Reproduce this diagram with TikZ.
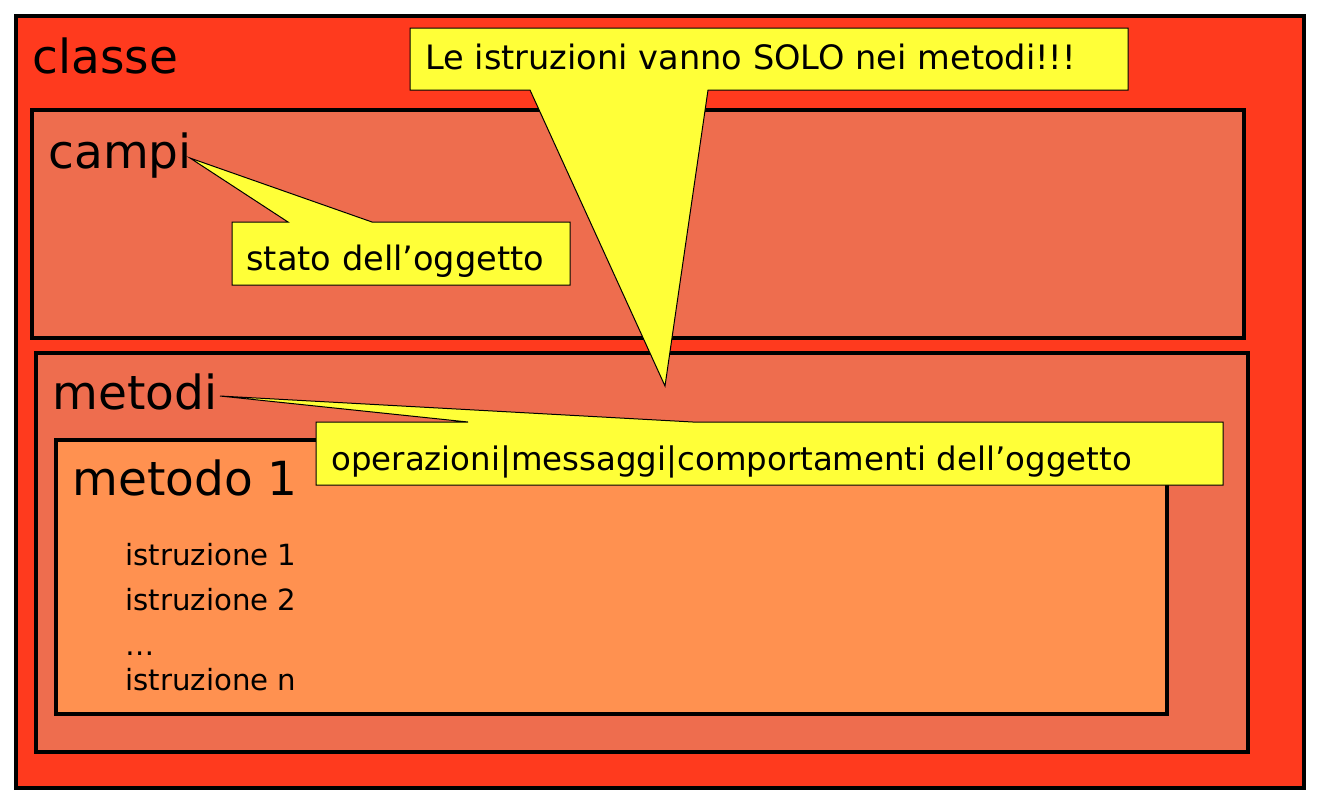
\documentclass[tikz,border=0pt]{standalone}
\usepackage{fontspec}
\setmainfont{DejaVu Sans}
\usetikzlibrary{positioning}
\definecolor{classe area}{HTML}{FF3A1E}
\definecolor{campi area}{HTML}{EE6D4E}
\definecolor{metodo area}{HTML}{FF9150}
\definecolor{note area}{HTML}{FFFF38}
\tikzset{
  box/.style={draw=black, line width=2pt},
  note/.style={fill=note area, draw=black, line width=0.5pt, line join=miter},
  label/.style={anchor=base west, inner sep=0pt},
  big/.style={label, font=\fontsize{23.5}{28}\selectfont},
  mid/.style={label, font=\fontsize{16.8}{20}\selectfont},
  small/.style={label, font=\fontsize{14.6}{17}\selectfont}
}
\begin{document}
\begin{tikzpicture}[x=0.5pt, y=-0.5pt]
  \useasboundingbox (0,0) rectangle (1326,800);

  % nested boxes
  \draw[box, fill=classe area] (16,16) rectangle (1304,788);
  \draw[box, fill=campi area] (32,110) rectangle (1244,338);
  \draw[box, fill=campi area] (36,353) rectangle (1248,752);
  \draw[box, fill=metodo area] (56,440) rectangle (1167,714);

  \node[big] (classe) at (32,73) {classe};
  \node[big] (campi) at (48,168) {campi};
  \node[big] (metodi) at (52,409) {metodi};
  \node[big] (metodo) at (72,495) {metodo 1};

  \node[small] (istr1) at (125,565) {istruzione 1};
  \node[small] (istr2) at (125,610) {istruzione 2};
  \node[small] (dots) at (125,655) {…};
  \node[small] (istrn) at (125,690) {istruzione n};

  % callouts
  \coordinate (campi tip) at (190,158);
  \coordinate (metodi tip) at (220,396);
  \coordinate (solo tip) at (665,386);

  \draw[note] (232,222) -- (288,222) -- (campi tip) -- (372,222) -- (570,222)
    -- (570,285) -- (232,285) -- cycle;
  \node[mid] (stato) at (246,270) {stato dell’oggetto};

  \draw[note] (316,422) -- (468,422) -- (metodi tip) -- (693,422) -- (1223,422)
    -- (1223,485) -- (316,485) -- cycle;
  \node[mid, font=\fontsize{16.2}{20}\selectfont] (operazioni) at (331,470)
    {operazioni|messaggi|comportamenti dell’oggetto};

  \draw[note] (410,28) -- (1128,28) -- (1128,90) -- (708,90) -- (solo tip)
    -- (530,90) -- (410,90) -- cycle;
  \node[mid] (solo) at (425,69) {Le istruzioni vanno SOLO nei metodi!!!};
\end{tikzpicture}
\end{document}
